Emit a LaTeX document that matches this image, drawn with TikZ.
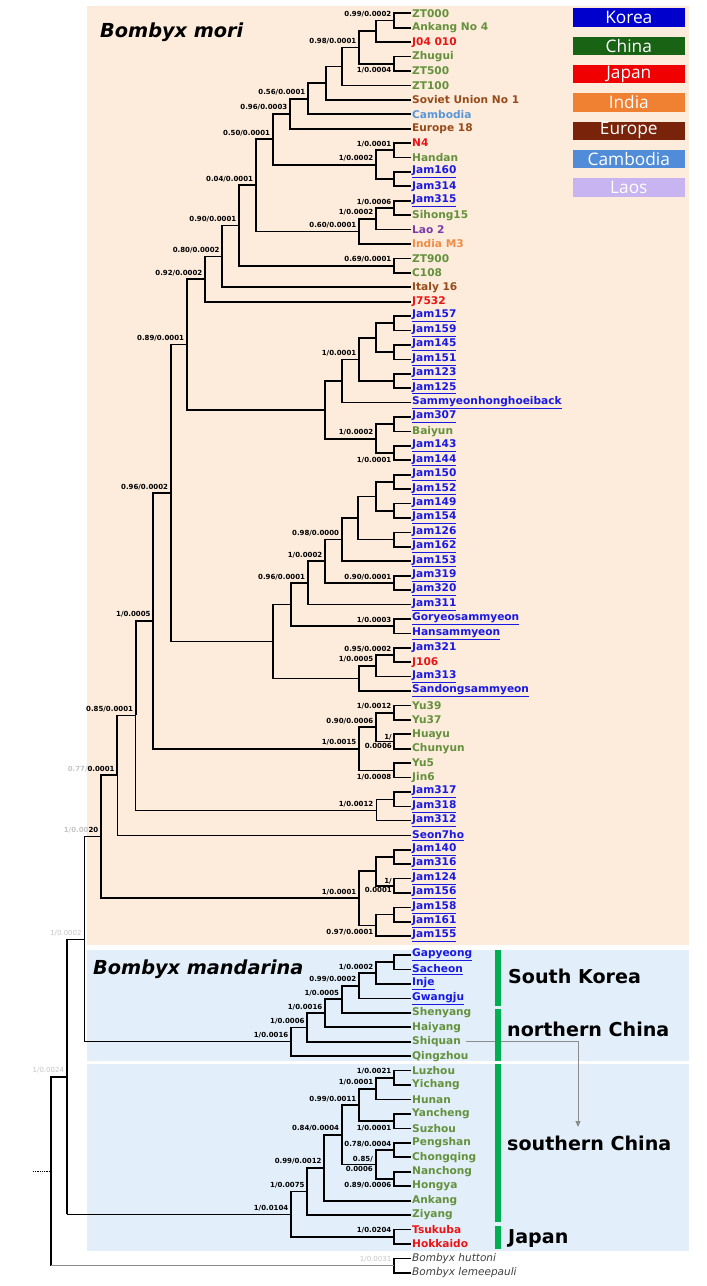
\documentclass[tikz,border=0pt]{standalone}
\usepackage{fontspec}
\setmainfont{DejaVu Sans}
\newfontfamily\legfont{Open Sans}
\usetikzlibrary{calc,arrows.meta}

\definecolor{peach}{RGB}{253,235,220}
\definecolor{pblue}{RGB}{226,239,250}
\definecolor{ckr}{RGB}{25,25,225}
\definecolor{ccn}{RGB}{100,145,60}
\definecolor{cjp}{RGB}{235,20,20}
\definecolor{cind}{RGB}{240,140,70}
\definecolor{ceu}{RGB}{150,75,25}
\definecolor{ckh}{RGB}{90,150,215}
\definecolor{clao}{RGB}{120,60,170}
\definecolor{gkr}{RGB}{0,0,204}
\definecolor{gcn}{RGB}{25,100,20}
\definecolor{gjp}{RGB}{240,0,0}
\definecolor{gind}{RGB}{240,128,50}
\definecolor{geu}{RGB}{120,35,10}
\definecolor{gkh}{RGB}{80,140,215}
\definecolor{glao}{RGB}{200,180,240}
\definecolor{bargreen}{RGB}{0,176,80}
\definecolor{arrgray}{RGB}{140,140,140}

\newcommand\uln[1]{\underline{#1}}
\newcommand\setnode[4]{\path ($(#3)!0.5!(#4)$) coordinate (tmpmid); \coordinate (#1) at (#2,0 |- tmpmid);}
\newcommand\edgeto[3][]{\draw[br,#1] (#2) |- (#3);}
\newcommand\inode[4]{\setnode{#1}{#2}{#3}{#4}\edgeto{#1}{#3}\edgeto{#1}{#4}}
\newcommand\blab[3]{\node[#2] (l#1) at (#1) {#3};}

\begin{document}
\begin{tikzpicture}[x=1pt,y=-1pt,
  br/.style={line width=1.7pt, black},
  thinbr/.style={line width=0.9pt},
  leaf/.style={anchor=west, inner sep=1pt, font=\fontsize{10.6}{10.6}\selectfont\bfseries},
  lkr/.style={leaf, text=ckr},
  lcn/.style={leaf, text=ccn},
  ljp/.style={leaf, text=cjp},
  lind/.style={leaf, text=cind},
  leu/.style={leaf, text=ceu},
  lkh/.style={leaf, text=ckh},
  llao/.style={leaf, text=clao},
  lout/.style={anchor=west, inner sep=1pt, font=\fontsize{10.5}{10.5}\selectfont\itshape, text=black!75},
  nlab/.style={inner sep=0pt, font=\fontsize{7}{7}\selectfont\bfseries},
  lup/.style={nlab, anchor=south east, xshift=-2.5pt, yshift=3pt},
  ldn/.style={nlab, anchor=north east, xshift=-2.5pt, yshift=-3.5pt},
  faint/.style={text=gray!45, font=\fontsize{7}{7}\selectfont},
  legbox/.style={minimum width=112.3pt, minimum height=18.3pt, inner sep=0pt, text=white, font=\legfont\fontsize{17.3}{17.3}\selectfont},
  region/.style={anchor=base west, inner sep=0pt, font=\fontsize{19.1}{19.1}\selectfont\bfseries},
  title/.style={anchor=base west, inner sep=0pt, font=\fontsize{19.3}{19.3}\selectfont\bfseries\itshape}
]
\useasboundingbox (0,0) rectangle (707,1286);
\fill[white] (0,0) rectangle (707,1286);

% panels
\fill[peach] (87,6) rectangle (689,945);
\fill[pblue] (87,950) rectangle (689,1061);
\fill[pblue] (87,1064) rectangle (689,1251);

% leaf tips
\foreach \i in {0,...,64} {\coordinate (L\i) at (411,{13.3+14.42*\i});}
\foreach \i in {0,...,22} {\coordinate (M\i) at (411,{955+14.45*\i});}

% Bombyx mori tree
\inode{a1}{394}{L0}{L1}
\inode{a2}{376}{a1}{L2}
\inode{a3}{394}{L3}{L4}
\inode{a4}{359}{a2}{a3}
\inode{a5}{342}{a4}{L5}
\inode{a6}{325.7}{a5}{L6}
\inode{a7}{308}{a6}{L7}
\inode{a8}{290}{a7}{L8}
\inode{b1}{394}{L9}{L10}
\inode{b2}{394}{L11}{L12}
\inode{b3}{376}{b1}{b2}
\inode{a9}{272.7}{a8}{b3}
\inode{c1}{394}{L13}{L14}
\inode{c2}{376}{c1}{L15}
\inode{c3}{359}{c2}{L16}
\inode{a10}{255.7}{a9}{c3}
\inode{d1}{394}{L17}{L18}
\inode{a11}{239}{a10}{d1}
\inode{a12}{222.3}{a11}{L19}
\inode{a13}{205}{a12}{L20}
\inode{e1}{394}{L21}{L22}
\inode{e2}{394}{L23}{L24}
\inode{e3}{376}{e1}{e2}
\inode{e4}{394}{L25}{L26}
\inode{e5}{359}{e3}{e4}
\inode{e6}{341.7}{e5}{L27}
\inode{f1}{394}{L28}{L29}
\inode{f2}{394}{L30}{L31}
\inode{f3}{376}{f1}{f2}
\inode{e7}{325}{e6}{f3}
\inode{a14}{186.7}{a13}{e7}
\inode{g1}{394}{L32}{L33}
\inode{g2}{394}{L34}{L35}
\inode{g3}{376}{g1}{g2}
\inode{g4}{394}{L36}{L37}
\inode{g5}{358.3}{g3}{g4}
\inode{g6}{341.7}{g5}{L38}
\inode{g7}{394}{L39}{L40}
\inode{g8}{325}{g6}{g7}
\inode{g9}{307.7}{g8}{L41}
\inode{g10}{394}{L42}{L43}
\inode{g11}{290.7}{g9}{g10}
\inode{h1}{394}{L44}{L45}
\inode{h2}{376}{h1}{L46}
\inode{h3}{359}{h2}{L47}
\inode{g12}{272.7}{g11}{h3}
\inode{A15}{170.7}{a14}{g12}
\inode{i1}{394}{L48}{L49}
\inode{i2}{394}{L50}{L51}
\inode{i3}{376}{i1}{i2}
\inode{i4}{394}{L52}{L53}
\inode{i5}{359}{i3}{i4}
\inode{A16}{153.3}{A15}{i5}
\inode{j1}{394}{L54}{L55}
\setnode{j2}{376}{j1}{L56}
\edgeto[thinbr]{j2}{j1}\edgeto[thinbr]{j2}{L56}
\setnode{A17}{135.7}{A16}{j2}
\edgeto{A17}{A16}\edgeto[thinbr]{A17}{j2}
\setnode{A18}{117.3}{A17}{L57}
\edgeto{A18}{A17}\edgeto[thinbr]{A18}{L57}
\inode{k1}{394}{L58}{L59}
\inode{k2}{394}{L60}{L61}
\inode{k3}{376}{k1}{k2}
\inode{k4}{394}{L62}{L63}
\inode{k5}{376}{k4}{L64}
\inode{k6}{359}{k3}{k5}
\inode{A19}{101}{A18}{k6}

% Bombyx mandarina tree
\inode{m1}{394}{M0}{M1}
\inode{m2}{376}{m1}{M2}
\inode{m3}{359}{m2}{M3}
\inode{m4}{341.7}{m3}{M4}
\inode{m5}{325}{m4}{M5}
\inode{m6}{307.3}{m5}{M6}
\inode{m7}{291}{m6}{M7}
\setnode{B1}{84.3}{A19}{m7}
\edgeto[thinbr]{B1}{A19}\edgeto[thinbr]{B1}{m7}
\inode{s1}{394}{M8}{M9}
\inode{s2}{376}{s1}{M10}
\inode{s3}{394}{M11}{M12}
\inode{s4}{359}{s2}{s3}
\inode{s5}{394}{M13}{M14}
\inode{s6}{394}{M15}{M16}
\inode{s7}{376}{s5}{s6}
\inode{s8}{341.7}{s4}{s7}
\inode{s9}{324.3}{s8}{M17}
\inode{s10}{307.3}{s9}{M18}
\inode{s11}{394}{M19}{M20}
\inode{s12}{291}{s10}{s11}
\setnode{B2}{66.7}{B1}{s12}
\draw[br] (B2) -- (B2 |- B1);
\draw[thinbr] (B2 |- B1) -- (B1);
\draw[br] (B2) -- (B2 |- s12);
\draw[thinbr] (B2 |- s12) -- (s12);
\inode{o1}{394}{M21}{M22}
\setnode{R}{50.7}{B2}{o1}
\draw[br] (R) |- (B2);
\draw[br] (R) -- (R |- o1);
\draw[thinbr, arrgray] (R |- o1) -- (o1);
\coordinate (root0) at (33,0 |- R);
\draw[densely dotted, line width=0.8pt] (root0) -- (R);

% node labels
\blab{a1}{lup}{0.99/0.0002}
\blab{a3}{ldn}{1/0.0004}
\blab{a4}{lup}{0.98/0.0001}
\blab{a7}{lup}{0.56/0.0001}
\blab{a8}{lup}{0.96/0.0003}
\blab{b1}{lup}{1/0.0001}
\blab{b3}{lup}{1/0.0002}
\blab{a9}{lup}{0.50/0.0001}
\blab{c1}{lup}{1/0.0006}
\blab{c2}{lup}{1/0.0002}
\blab{c3}{lup}{0.60/0.0001}
\blab{a10}{lup}{0.04/0.0001}
\blab{d1}{lup}{0.69/0.0001}
\blab{a11}{lup}{0.90/0.0001}
\blab{a12}{lup}{0.80/0.0002}
\blab{a13}{lup}{0.92/0.0002}
\blab{e5}{lup}{1/0.0001}
\blab{f2}{ldn}{1/0.0001}
\blab{f3}{lup}{1/0.0002}
\blab{a14}{lup}{0.89/0.0001}
\blab{g6}{lup}{0.98/0.0000}
\blab{g7}{lup}{0.90/0.0001}
\blab{g8}{lup}{1/0.0002}
\blab{g9}{lup}{0.96/0.0001}
\blab{g10}{lup}{1/0.0003}
\blab{h1}{lup}{0.95/0.0002}
\blab{h2}{lup}{1/0.0005}
\blab{A15}{lup}{0.96/0.0002}
\blab{i1}{lup}{1/0.0012}
\node[nlab, anchor=south east, xshift=-2pt, yshift=1.5pt] (li2a) at (i2) {1/};
\node[nlab, anchor=north east, xshift=-2pt, yshift=-1.5pt] (li2b) at (i2) {0.0006};
\blab{i3}{lup}{0.90/0.0006}
\blab{i4}{ldn}{1/0.0008}
\blab{i5}{lup}{1/0.0015}
\blab{A16}{lup}{1/0.0005}
\blab{j2}{lup}{1/0.0012}
\blab{A17}{lup}{0.85/0.0001}
\blab{A18}{lup}{\textcolor{gray!45}{0.77/}0.0001}
\node[nlab, anchor=south east, xshift=-2pt, yshift=1.5pt] (lk2a) at (k2) {1/};
\node[nlab, anchor=north east, xshift=-2pt, yshift=-1.5pt] (lk2b) at (k2) {0.0001};
\blab{k5}{ldn}{0.97/0.0001}
\blab{k6}{lup}{1/0.0001}
\blab{A19}{lup}{\textcolor{gray!45}{1/0.00}20}
\blab{m2}{lup}{1/0.0002}
\blab{m3}{lup}{0.99/0.0002}
\blab{m4}{lup}{1/0.0005}
\blab{m5}{lup}{1/0.0016}
\blab{m6}{lup}{1/0.0006}
\blab{m7}{lup}{1/0.0016}
\blab{B1}{lup,faint}{1/0.0002}
\blab{s1}{lup}{1/0.0021}
\blab{s2}{lup}{1/0.0001}
\blab{s3}{ldn}{1/0.0001}
\blab{s4}{lup}{0.99/0.0011}
\blab{s5}{lup}{0.78/0.0004}
\blab{s6}{ldn}{0.89/0.0006}
\node[nlab, anchor=south east, xshift=-3pt, yshift=2pt] (ls7a) at (s7) {0.85/};
\node[nlab, anchor=north east, xshift=-3pt, yshift=-2pt] (ls7b) at (s7) {0.0006};
\blab{s8}{lup}{0.84/0.0004}
\blab{s9}{lup}{0.99/0.0012}
\blab{s10}{lup}{1/0.0075}
\blab{s11}{lup}{1/0.0204}
\blab{s12}{lup}{1/0.0104}
\blab{B2}{lup,faint}{1/0.0024}
\blab{o1}{lup,faint}{1/0.0031}

% leaves (Bombyx mori)
\foreach \i/\s/\t in {0/lcn/ZT000, 1/lcn/Ankang No 4, 2/ljp/J04 010, 3/lcn/Zhugui, 4/lcn/ZT500,
  5/lcn/ZT100, 6/leu/Soviet Union No 1, 7/lkh/Cambodia, 8/leu/Europe 18, 9/ljp/N4, 10/lcn/Handan,
  11/lkr/\uln{Jam160}, 12/lkr/Jam314, 13/lkr/\uln{Jam315}, 14/lcn/Sihong15, 15/llao/Lao 2,
  16/lind/India M3, 17/lcn/ZT900, 18/lcn/C108, 19/leu/Italy 16, 20/ljp/J7532,
  21/lkr/\uln{Jam157}, 22/lkr/\uln{Jam159}, 23/lkr/\uln{Jam145}, 24/lkr/\uln{Jam151},
  25/lkr/\uln{Jam123}, 26/lkr/\uln{Jam125}, 27/lkr/\uln{Sammyeonhonghoeiback},
  28/lkr/\uln{Jam307}, 29/lcn/Baiyun, 30/lkr/\uln{Jam143}, 31/lkr/\uln{Jam144},
  32/lkr/\uln{Jam150}, 33/lkr/\uln{Jam152}, 34/lkr/\uln{Jam149}, 35/lkr/\uln{Jam154},
  36/lkr/\uln{Jam126}, 37/lkr/\uln{Jam162}, 38/lkr/\uln{Jam153}, 39/lkr/\uln{Jam319},
  40/lkr/\uln{Jam320}, 41/lkr/\uln{Jam311}, 42/lkr/\uln{Goryeosammyeon}, 43/lkr/\uln{Hansammyeon},
  44/lkr/Jam321, 45/ljp/J106, 46/lkr/\uln{Jam313}, 47/lkr/\uln{Sandongsammyeon},
  48/lcn/Yu39, 49/lcn/Yu37, 50/lcn/Huayu, 51/lcn/Chunyun, 52/lcn/Yu5, 53/lcn/Jin6,
  54/lkr/\uln{Jam317}, 55/lkr/\uln{Jam318}, 56/lkr/\uln{Jam312}, 57/lkr/\uln{Seon7ho},
  58/lkr/\uln{Jam140}, 59/lkr/\uln{Jam316}, 60/lkr/\uln{Jam124}, 61/lkr/\uln{Jam156},
  62/lkr/\uln{Jam158}, 63/lkr/\uln{Jam161}, 64/lkr/\uln{Jam155}}
  {\node[\s] (nL\i) at (L\i) {\t};}

% leaves (Bombyx mandarina and outgroups)
\foreach \i/\s/\t in {0/lkr/\uln{Gapyeong}, 1/lkr/\uln{Sacheon}, 2/lkr/\uln{Inje}, 3/lkr/\uln{Gwangju},
  4/lcn/Shenyang, 5/lcn/Haiyang, 6/lcn/Shiquan, 7/lcn/Qingzhou, 8/lcn/Luzhou, 9/lcn/Yichang,
  10/lcn/Hunan, 11/lcn/Yancheng, 12/lcn/Suzhou, 13/lcn/Pengshan, 14/lcn/Chongqing,
  15/lcn/Nanchong, 16/lcn/Hongya, 17/lcn/Ankang, 18/lcn/Ziyang, 19/ljp/Tsukuba, 20/ljp/Hokkaido,
  21/lout/Bombyx huttoni, 22/lout/Bombyx lemeepauli}
  {\node[\s] (nM\i) at (M\i) {\t};}

% titles
\node[title] (tmori) at (100,37.7) {Bombyx mori};
\node[title] (tmand) at (93,974) {Bombyx mandarina};

% gray arrow from Shiquan
\coordinate (arrEnd) at (578,1127);
\draw[arrgray, line width=0.9pt, -{Triangle[length=6pt,width=5pt]}] ([xshift=4pt]nM6.east) -| (arrEnd);

% green bars
\fill[bargreen] (495,950) rectangle (500.5,1005.7);
\fill[bargreen] (495,1009) rectangle (500.5,1060.7);
\fill[bargreen] (495,1064.3) rectangle (500.5,1221.7);
\fill[bargreen] (495,1225.7) rectangle (500.5,1249.3);

% region labels
\node[region] (rSK) at (508,983.3) {South Korea};
\node[region] (rNC) at (507,1036.7) {northern China};
\node[region] (rSC) at (507,1150) {southern China};
\node[region] (rJP) at (508,1243.3) {Japan};

% legend
\foreach \t/\c [count=\k from 0] in {Korea/gkr, China/gcn, Japan/gjp, India/gind, Europe/geu, Cambodia/gkh, Laos/glao}
  {\node[legbox, fill=\c] (leg\k) at (628.8,{17.5+28.33*\k}) {\t};}
\end{tikzpicture}
\end{document}
